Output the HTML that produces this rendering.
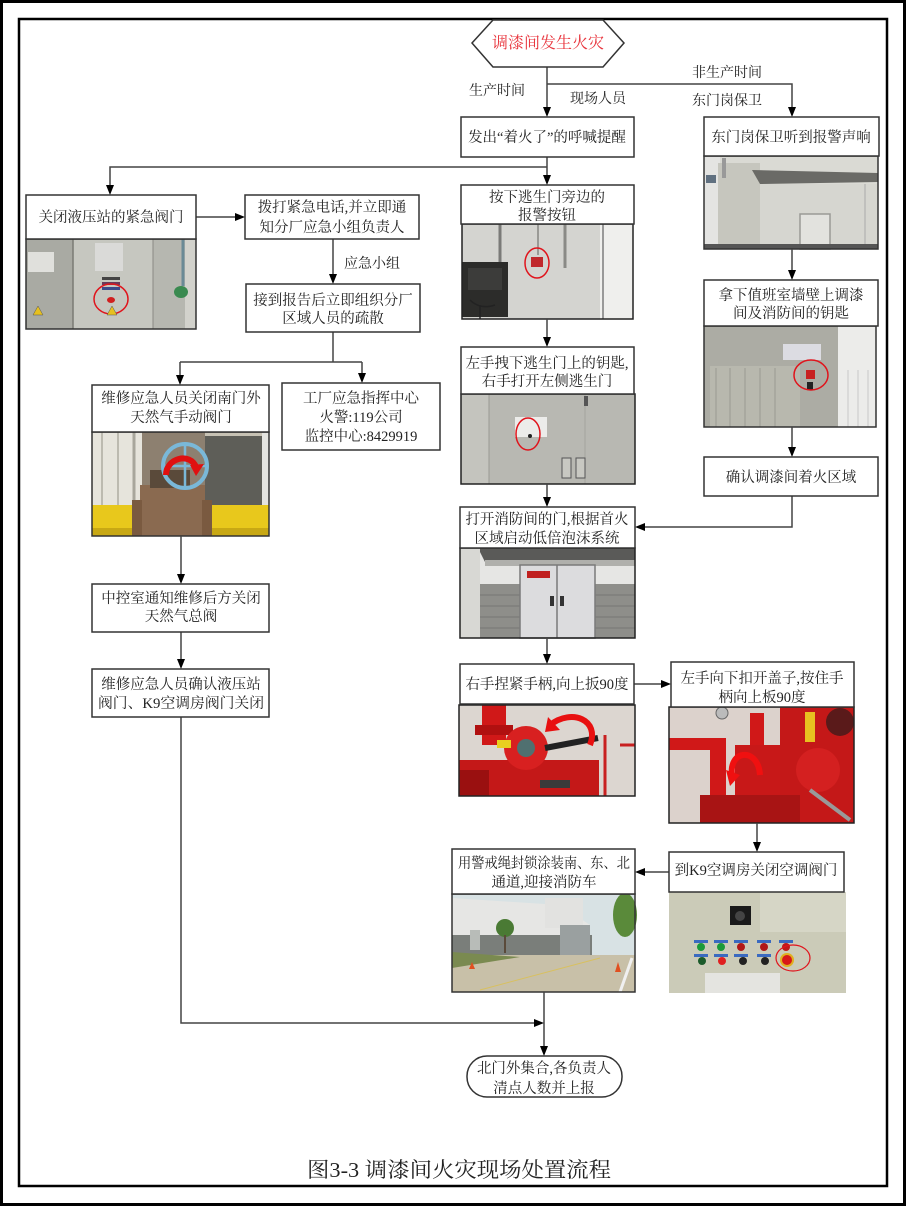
<!DOCTYPE html>
<html><head><meta charset="utf-8">
<style>
html,body{margin:0;padding:0;background:#fff;}
svg{display:block;}
text{font-family:"Liberation Serif","Noto Serif CJK SC",serif;fill:#222;}
.t{font-size:14.5px;text-anchor:middle;}
.l{font-size:14px;text-anchor:middle;}
</style></head>
<body>
<svg width="906" height="1206" viewBox="0 0 906 1206" xmlns="http://www.w3.org/2000/svg">
<rect x="0" y="0" width="906" height="1206" fill="#fff"/>
<!-- frames -->
<rect x="1.5" y="1.5" width="903" height="1203" fill="none" stroke="#000" stroke-width="3"/>
<rect x="19" y="19" width="868" height="1167" fill="none" stroke="#000" stroke-width="2.5"/>

<!-- ===== PHOTOS ===== -->
<!-- P1 hydraulic station -->
<g>
<rect x="26" y="239" width="170" height="90" fill="#bcbcb4"/>
<rect x="26" y="239" width="47" height="90" fill="#a9aaa3"/>
<rect x="73" y="239" width="80" height="90" fill="#c6c7c0"/>
<rect x="153" y="239" width="32" height="90" fill="#b6b7b0"/>
<rect x="185" y="239" width="11" height="90" fill="#d2d2cc"/>
<line x1="73" y1="239" x2="73" y2="329" stroke="#7a7a74" stroke-width="1.5"/>
<line x1="153" y1="239" x2="153" y2="329" stroke="#8a8a84" stroke-width="1"/>
<rect x="28" y="252" width="26" height="20" fill="#e0e0dc"/>
<rect x="95" y="243" width="28" height="28" fill="#dadad8"/>
<rect x="102" y="277" width="18" height="3" fill="#444"/>
<rect x="102" y="282" width="18" height="3" fill="#6a3a5a"/>
<rect x="102" y="287" width="18" height="3" fill="#3a4a8a"/>
<ellipse cx="111" cy="300" rx="4" ry="3" fill="#d02020"/>
<ellipse cx="111" cy="299" rx="17" ry="15" fill="none" stroke="#e0141c" stroke-width="1.5"/>
<polygon points="38,306 33,315 43,315" fill="#e6c020" stroke="#555" stroke-width="0.5"/>
<polygon points="112,306 107,315 117,315" fill="#e6c020" stroke="#555" stroke-width="0.5"/>
<line x1="183" y1="239" x2="183" y2="286" stroke="#6a8a96" stroke-width="3"/>
<ellipse cx="181" cy="292" rx="7" ry="6" fill="#3a8a50"/>
<rect x="26" y="239" width="170" height="90" fill="none" stroke="#333" stroke-width="1.5"/>
</g>

<!-- P2 gas valve -->
<g>
<rect x="92" y="432" width="177" height="104" fill="#c7c2b4"/>
<rect x="92" y="432" width="50" height="80" fill="#e6e4dc"/>
<line x1="102" y1="432" x2="102" y2="510" stroke="#bcbab0" stroke-width="2"/>
<line x1="118" y1="432" x2="118" y2="510" stroke="#bcbab0" stroke-width="2"/>
<line x1="134" y1="432" x2="134" y2="510" stroke="#a8a69c" stroke-width="3"/>
<rect x="142" y="432" width="63" height="70" fill="#8d8070"/>
<rect x="205" y="436" width="57" height="72" fill="#5e5e58"/>
<rect x="262" y="432" width="7" height="104" fill="#e4e4e0"/>
<rect x="92" y="505" width="177" height="31" fill="#e8c81c"/>
<rect x="92" y="528" width="177" height="8" fill="#c8a814"/>
<rect x="140" y="485" width="65" height="51" fill="#8a6a50"/>
<rect x="132" y="500" width="10" height="36" fill="#7a5a40"/>
<rect x="202" y="500" width="10" height="36" fill="#7a5a40"/>
<rect x="150" y="470" width="40" height="18" fill="#5a4a3a"/>
<circle cx="185" cy="466" r="22" fill="none" stroke="#7ab8d8" stroke-width="4"/>
<line x1="185" y1="444" x2="185" y2="488" stroke="#7ab8d8" stroke-width="2.5"/>
<line x1="163" y1="466" x2="207" y2="466" stroke="#7ab8d8" stroke-width="2.5"/>
<path d="M166,475 C166,458 190,452 196,467" fill="none" stroke="#e01010" stroke-width="6"/>
<polygon points="190,465 204,464 196,476" fill="#e01010"/>
<rect x="92" y="432" width="177" height="104" fill="none" stroke="#333" stroke-width="1.5"/>
</g>

<!-- P3 alarm button -->
<g>
<rect x="462" y="224" width="171" height="95" fill="#d4d4d0"/>
<rect x="600" y="224" width="33" height="95" fill="#efefed"/>
<line x1="603" y1="224" x2="603" y2="319" stroke="#999" stroke-width="2"/>
<line x1="500" y1="224" x2="500" y2="262" stroke="#7a7a78" stroke-width="3"/>
<line x1="538" y1="224" x2="538" y2="255" stroke="#9a9a96" stroke-width="2"/>
<line x1="565" y1="224" x2="565" y2="268" stroke="#8a8a86" stroke-width="3"/>
<rect x="462" y="262" width="46" height="55" fill="#2c2c2a"/>
<rect x="468" y="268" width="34" height="22" fill="#3c3c3a"/>
<path d="M470,300 q10,10 25,5 M480,305 l0,14" stroke="#222" stroke-width="1.5" fill="none"/>
<rect x="531" y="257" width="12" height="10" fill="#c0282c"/>
<ellipse cx="537" cy="263" rx="12" ry="15" fill="none" stroke="#e0141c" stroke-width="1.5"/>
<rect x="462" y="224" width="171" height="95" fill="none" stroke="#222" stroke-width="1.5"/>
</g>

<!-- P4 escape door -->
<g>
<rect x="461" y="394" width="174" height="90" fill="#b8b8b2"/>
<rect x="461" y="394" width="28" height="90" fill="#c4c4be"/>
<line x1="489" y1="394" x2="489" y2="484" stroke="#9a9a94" stroke-width="1"/>
<line x1="585" y1="394" x2="585" y2="484" stroke="#a4a49e" stroke-width="1"/>
<rect x="584" y="396" width="4" height="10" fill="#555"/>
<rect x="515" y="417" width="32" height="20" fill="#ececea"/>
<circle cx="530" cy="436" r="2" fill="#222"/>
<ellipse cx="528" cy="434" rx="12" ry="16" fill="none" stroke="#e0141c" stroke-width="1.5"/>
<rect x="562" y="458" width="9" height="20" fill="#c8c8c2" stroke="#555" stroke-width="1"/>
<rect x="576" y="458" width="9" height="20" fill="#c8c8c2" stroke="#555" stroke-width="1"/>
<rect x="461" y="394" width="174" height="90" fill="none" stroke="#222" stroke-width="1.5"/>
</g>

<!-- P5 fire room -->
<g>
<rect x="460" y="548" width="175" height="90" fill="#e6e6e4"/>
<polygon points="478,548 635,548 635,560 485,562" fill="#5a5a58"/>
<rect x="485" y="560" width="150" height="6" fill="#b0b0ac"/>
<rect x="460" y="584" width="175" height="54" fill="#8e8e8a"/>
<g stroke="#777774" stroke-width="1">
<line x1="460" y1="595" x2="635" y2="595"/><line x1="460" y1="606" x2="635" y2="606"/>
<line x1="460" y1="617" x2="635" y2="617"/><line x1="460" y1="628" x2="635" y2="628"/>
</g>
<rect x="460" y="548" width="20" height="90" fill="#d8d8d4"/>
<rect x="520" y="565" width="75" height="73" fill="#dcdcde" stroke="#7a7a7a" stroke-width="1.5"/>
<line x1="557" y1="565" x2="557" y2="638" stroke="#7a7a7a" stroke-width="1.5"/>
<rect x="527" y="571" width="23" height="7" fill="#c02020"/>
<rect x="550" y="596" width="4" height="10" fill="#333"/>
<rect x="560" y="596" width="4" height="10" fill="#333"/>
<rect x="460" y="548" width="175" height="90" fill="none" stroke="#222" stroke-width="1.5"/>
</g>

<!-- P6 red valve 1 -->
<g>
<rect x="459" y="705" width="176" height="91" fill="#dcd6d0"/>
<rect x="482" y="705" width="24" height="40" fill="#d01818"/>
<rect x="475" y="725" width="38" height="10" fill="#b01010"/>
<rect x="459" y="760" width="140" height="36" fill="#c41818"/>
<circle cx="526" cy="748" r="22" fill="#d82020"/>
<circle cx="526" cy="748" r="9" fill="#507070"/>
<rect x="497" y="740" width="14" height="8" fill="#e8d020"/>
<line x1="545" y1="748" x2="598" y2="738" stroke="#222" stroke-width="6"/>
<path d="M550,725 C572,708 600,720 590,745" fill="none" stroke="#e81010" stroke-width="6"/>
<polygon points="548,717 560,730 545,732" fill="#e81010"/>
<rect x="459" y="770" width="30" height="26" fill="#9a1010"/>
<line x1="605" y1="735" x2="605" y2="796" stroke="#c82020" stroke-width="3"/>
<line x1="620" y1="745" x2="635" y2="745" stroke="#c82020" stroke-width="3"/>
<rect x="540" y="780" width="30" height="8" fill="#3a3a3a"/>
<rect x="459" y="705" width="176" height="91" fill="none" stroke="#222" stroke-width="1.5"/>
</g>

<!-- P7 red valve 2 -->
<g>
<rect x="669" y="707" width="185" height="116" fill="#dcd2cc"/>
<rect x="780" y="707" width="74" height="116" fill="#c41818"/>
<circle cx="840" cy="722" r="14" fill="#5a1a1a"/>
<rect x="805" y="712" width="10" height="30" fill="#e8c020"/>
<rect x="710" y="740" width="16" height="83" fill="#d01818"/>
<rect x="669" y="738" width="57" height="12" fill="#d01818"/>
<rect x="750" y="713" width="14" height="60" fill="#d01818"/>
<rect x="735" y="745" width="45" height="60" fill="#c81818"/>
<rect x="700" y="795" width="100" height="28" fill="#a81414"/>
<circle cx="818" cy="770" r="22" fill="#d42020"/>
<circle cx="722" cy="713" r="6" fill="#bbb" stroke="#666"/>
<line x1="810" y1="790" x2="850" y2="820" stroke="#999" stroke-width="4"/>
<path d="M733,780 C725,750 758,745 760,775" fill="none" stroke="#f01010" stroke-width="6"/>
<polygon points="726,770 740,775 730,786" fill="#f01010"/>
<rect x="669" y="707" width="185" height="116" fill="none" stroke="#222" stroke-width="1.5"/>
</g>

<!-- P8 factory road -->
<g>
<rect x="452" y="894" width="183" height="98" fill="#d8e2e4"/>
<polygon points="452,898 560,905 590,925 590,958 452,958" fill="#e6e6e4"/>
<rect x="545" y="898" width="38" height="30" fill="#e2e2e0"/>
<rect x="452" y="935" width="140" height="20" fill="#7a7e7a"/>
<rect x="470" y="930" width="10" height="20" fill="#b8bcb8"/>
<rect x="560" y="925" width="30" height="30" fill="#9aa0a0"/>
<rect x="452" y="955" width="183" height="37" fill="#c8c0a8"/>
<polygon points="452,952 520,957 452,968" fill="#7a8a50"/>
<line x1="480" y1="990" x2="600" y2="958" stroke="#d8c060" stroke-width="1"/>
<line x1="620" y1="992" x2="632" y2="958" stroke="#f0f0f0" stroke-width="3"/>
<circle cx="505" cy="928" r="9" fill="#4a7a34"/>
<rect x="504" y="935" width="2" height="18" fill="#5a4a3a"/>
<ellipse cx="625" cy="915" rx="12" ry="22" fill="#5a8a3a"/>
<polygon points="472,962 469,969 475,969" fill="#e05020"/>
<polygon points="618,962 615,972 621,972" fill="#e05020"/>
<rect x="452" y="894" width="183" height="98" fill="none" stroke="#333" stroke-width="1.5"/>
</g>

<!-- P9 control panel -->
<g>
<rect x="669" y="892" width="177" height="101" fill="#cbcbb8"/>
<rect x="760" y="892" width="86" height="40" fill="#d6d6c6"/>
<rect x="730" y="906" width="21" height="19" fill="#1a1a1a"/>
<circle cx="740" cy="916" r="5" fill="#444"/>
<g>
<rect x="694" y="940" width="14" height="3" fill="#3a6ac0"/><circle cx="701" cy="947" r="4" fill="#1a9a3a"/>
<rect x="714" y="940" width="14" height="3" fill="#3a6ac0"/><circle cx="721" cy="947" r="4" fill="#1a9a3a"/>
<rect x="734" y="940" width="14" height="3" fill="#3a6ac0"/><circle cx="741" cy="947" r="4" fill="#b01818"/>
<rect x="757" y="940" width="14" height="3" fill="#3a6ac0"/><circle cx="764" cy="947" r="4" fill="#b01818"/>
<rect x="779" y="940" width="14" height="3" fill="#3a6ac0"/><circle cx="786" cy="947" r="4" fill="#c01818"/>
<rect x="694" y="954" width="14" height="3" fill="#3a6ac0"/><circle cx="702" cy="961" r="4" fill="#1a5a2a"/>
<rect x="714" y="954" width="14" height="3" fill="#3a6ac0"/><circle cx="722" cy="961" r="4" fill="#e02020"/>
<rect x="734" y="954" width="14" height="3" fill="#3a6ac0"/><circle cx="743" cy="961" r="4" fill="#222"/>
<rect x="757" y="954" width="14" height="3" fill="#3a6ac0"/><circle cx="765" cy="961" r="4" fill="#222"/>
<circle cx="787" cy="960" r="7" fill="#e0b020"/><circle cx="787" cy="960" r="5" fill="#d81818"/>
</g>
<ellipse cx="793" cy="958" rx="17" ry="13" fill="none" stroke="#e0141c" stroke-width="1.2"/>
<rect x="705" y="973" width="75" height="20" fill="#e4e4e0"/>
</g>

<!-- P10 east gate -->
<g>
<rect x="704" y="156" width="174" height="93" fill="#dadad4"/>
<rect x="704" y="156" width="16" height="93" fill="#e4e4e2"/>
<rect x="706" y="175" width="10" height="8" fill="#607080"/>
<rect x="718" y="163" width="42" height="86" fill="#c6c6be"/>
<rect x="722" y="158" width="4" height="20" fill="#999"/>
<polygon points="752,170 878,173 878,182 760,184" fill="#6a6a66"/>
<rect x="760" y="184" width="118" height="65" fill="#d6d6d0"/>
<line x1="865" y1="184" x2="865" y2="249" stroke="#aaa" stroke-width="1"/>
<rect x="800" y="214" width="30" height="35" fill="#e2e2de" stroke="#9a9a96" stroke-width="1.5"/>
<rect x="704" y="244" width="174" height="5" fill="#555"/>
<rect x="704" y="156" width="174" height="93" fill="none" stroke="#333" stroke-width="1.5"/>
</g>

<!-- P11 key on wall -->
<g>
<rect x="704" y="326" width="172" height="101" fill="#acaca4"/>
<rect x="710" y="366" width="90" height="61" fill="#b8b8ae"/>
<g stroke="#9a9a92" stroke-width="1">
<line x1="716" y1="368" x2="716" y2="427"/><line x1="730" y1="368" x2="730" y2="427"/>
<line x1="745" y1="368" x2="745" y2="427"/><line x1="760" y1="368" x2="760" y2="427"/>
<line x1="775" y1="368" x2="775" y2="427"/>
</g>
<rect x="838" y="326" width="38" height="101" fill="#ececea"/>
<g stroke="#c8c8c8" stroke-width="1">
<line x1="848" y1="370" x2="848" y2="427"/><line x1="858" y1="370" x2="858" y2="427"/><line x1="868" y1="370" x2="868" y2="427"/>
</g>
<rect x="783" y="344" width="38" height="16" fill="#dcdce2"/>
<rect x="806" y="370" width="9" height="9" fill="#c82020"/>
<rect x="807" y="382" width="6" height="8" fill="#222"/>
<ellipse cx="811" cy="375" rx="17" ry="15" fill="none" stroke="#e0141c" stroke-width="1.5"/>
<rect x="704" y="326" width="172" height="101" fill="none" stroke="#333" stroke-width="1.5"/>
</g>

<!-- ===== CONNECTORS ===== -->
<g stroke="#444" stroke-width="1.5" fill="none">
<polyline points="547,67 547,110"/>
<polyline points="547,84 792,84 792,110"/>
<polyline points="547,157 547,177"/>
<polyline points="547,167 110,167 110,187"/>
<polyline points="196,217 238,217"/>
<polyline points="333,239 333,277"/>
<polyline points="333,332 333,362"/>
<polyline points="180,362 362,362"/>
<polyline points="180,362 180,377"/>
<polyline points="362,362 362,376"/>
<polyline points="181,536 181,577"/>
<polyline points="181,632 181,662"/>
<polyline points="181,717 181,1023 537,1023"/>
<polyline points="547,319 547,340"/>
<polyline points="547,484 547,500"/>
<polyline points="547,638 547,657"/>
<polyline points="634,684 664,684"/>
<polyline points="792,249 792,273"/>
<polyline points="792,427 792,450"/>
<polyline points="792,496 792,527 642,527"/>
<polyline points="757,823 757,845"/>
<polyline points="669,872 642,872"/>
<polyline points="544,992 544,1049"/>
</g>
<g fill="#000">
<polygon points="543,107 551,107 547,117"/>
<polygon points="788,107 796,107 792,117"/>
<polygon points="543,175 551,175 547,185"/>
<polygon points="106,185 114,185 110,195"/>
<polygon points="235,213 235,221 245,217"/>
<polygon points="329,274 337,274 333,284"/>
<polygon points="176,375 184,375 180,385"/>
<polygon points="358,373 366,373 362,383"/>
<polygon points="177,574 185,574 181,584"/>
<polygon points="177,659 185,659 181,669"/>
<polygon points="534,1019 534,1027 544,1023"/>
<polygon points="543,337 551,337 547,347"/>
<polygon points="543,497 551,497 547,507"/>
<polygon points="543,654 551,654 547,664"/>
<polygon points="661,680 661,688 671,684"/>
<polygon points="788,270 796,270 792,280"/>
<polygon points="788,447 796,447 792,457"/>
<polygon points="645,523 645,531 635,527"/>
<polygon points="753,842 761,842 757,852"/>
<polygon points="645,868 645,876 635,872"/>
<polygon points="540,1046 548,1046 544,1056"/>
</g>

<!-- ===== NODES ===== -->
<g fill="#fff" stroke="#333" stroke-width="1.5">
<polygon points="472,43 493,20 603,20 624,43 603,67 493,67"/>
<rect x="461" y="117" width="173" height="40"/>
<rect x="704" y="117" width="175" height="39"/>
<rect x="26" y="195" width="170" height="44"/>
<rect x="245" y="195" width="174" height="44"/>
<rect x="246" y="284" width="174" height="48"/>
<rect x="92" y="385" width="177" height="47"/>
<rect x="282" y="383" width="158" height="67"/>
<rect x="461" y="185" width="173" height="39"/>
<rect x="461" y="347" width="173" height="47"/>
<rect x="704" y="280" width="174" height="46"/>
<rect x="704" y="457" width="174" height="39"/>
<rect x="460" y="507" width="175" height="41"/>
<rect x="460" y="664" width="174" height="40"/>
<rect x="671" y="662" width="183" height="45"/>
<rect x="92" y="584" width="177" height="48"/>
<rect x="92" y="669" width="177" height="48"/>
<rect x="669" y="852" width="175" height="40"/>
<rect x="452" y="849" width="183" height="45"/>
<rect x="467" y="1056" width="155" height="41" rx="20" ry="20"/>
</g>

<!-- ===== TEXT ===== -->
<text x="548" y="48" style="font-size:16px;text-anchor:middle;fill:#e8343c;">调漆间发生火灾</text>
<text class="l" x="497" y="95">生产时间</text>
<text class="l" x="598" y="103">现场人员</text>
<text class="l" x="727" y="77">非生产时间</text>
<text class="l" x="727" y="105">东门岗保卫</text>
<text class="l" x="372" y="268">应急小组</text>

<text class="t" x="547" y="142">发出“着火了”的呼喊提醒</text>
<text class="t" x="791" y="142">东门岗保卫听到报警声响</text>
<text class="t" x="111" y="222">关闭液压站的紧急阀门</text>
<text class="t" x="332" y="212">拨打紧急电话,并立即通</text>
<text class="t" x="332" y="232">知分厂应急小组负责人</text>
<text class="t" x="333" y="305">接到报告后立即组织分厂</text>
<text class="t" x="333" y="323">区域人员的疏散</text>
<text class="t" x="181" y="403">维修应急人员关闭南门外</text>
<text class="t" x="181" y="422">天然气手动阀门</text>
<text class="t" x="361" y="403">工厂应急指挥中心</text>
<text class="t" x="361" y="422">火警:119公司</text>
<text class="t" x="361" y="441">监控中心:8429919</text>
<text class="t" x="547" y="202">按下逃生门旁边的</text>
<text class="t" x="547" y="220">报警按钮</text>
<text class="t" x="547" y="368">左手拽下逃生门上的钥匙,</text>
<text class="t" x="547" y="386">右手打开左侧逃生门</text>
<text class="t" x="791" y="300">拿下值班室墙壁上调漆</text>
<text class="t" x="791" y="318">间及消防间的钥匙</text>
<text class="t" x="791" y="482">确认调漆间着火区域</text>
<text class="t" x="547" y="524">打开消防间的门,根据首火</text>
<text class="t" x="547" y="543">区域启动低倍泡沫系统</text>
<text class="t" x="547" y="689">右手捏紧手柄,向上扳90度</text>
<text class="t" x="762" y="683">左手向下扣开盖子,按住手</text>
<text class="t" x="762" y="702">柄向上板90度</text>
<text class="t" x="181" y="603">中控室通知维修后方关闭</text>
<text class="t" x="181" y="621">天然气总阀</text>
<text class="t" x="181" y="689">维修应急人员确认液压站</text>
<text class="t" x="181" y="708" textLength="166" lengthAdjust="spacingAndGlyphs">阀门、K9空调房阀门关闭</text>
<text class="t" x="756" y="875">到K9空调房关闭空调阀门</text>
<text class="t" x="544" y="868" textLength="172" lengthAdjust="spacingAndGlyphs">用警戒绳封锁涂装南、东、北</text>
<text class="t" x="544" y="887">通道,迎接消防车</text>
<text class="t" x="544" y="1073">北门外集合,各负责人</text>
<text class="t" x="544" y="1093">清点人数并上报</text>

<text x="459" y="1177" textLength="304" lengthAdjust="spacingAndGlyphs" style="font-size:21px;text-anchor:middle;fill:#222;">图3-3 调漆间火灾现场处置流程</text>
</svg>
</body></html>
